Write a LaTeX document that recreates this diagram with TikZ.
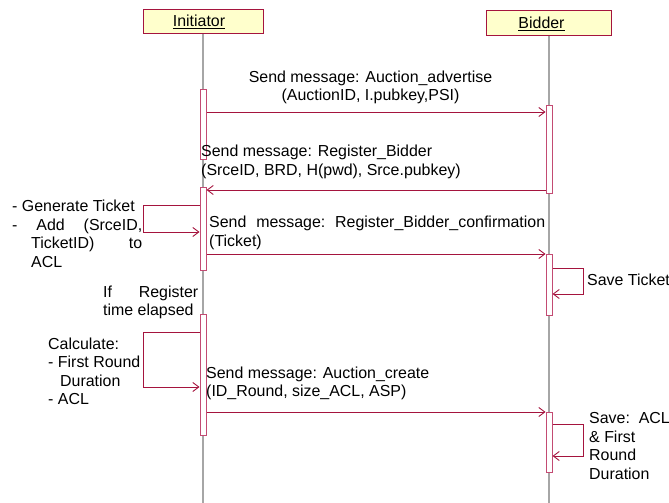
\documentclass[tikz,border=0pt]{standalone}
\usepackage{fontspec}
\setmainfont{Liberation Sans}
\usetikzlibrary{arrows.meta}
\definecolor{crim}{RGB}{165,20,62}
\definecolor{actb}{RGB}{195,75,115}
\definecolor{headfill}{RGB}{255,255,204}
\tikzset{
  lbl/.style={anchor=base west, inner sep=0pt, font=\fontsize{16}{18.5}\selectfont},
  head/.style={draw=crim, line width=1bp, fill=headfill, inner sep=0pt, font=\fontsize{16}{18.5}\selectfont},
  lifeline/.style={draw=gray!70, line width=1.2bp},
  actbox/.style={draw=actb, line width=1bp, fill=white},
  msg/.style={draw=crim, line width=0.9bp, -{Straight Barb[length=6bp,width=9bp,line width=0.9bp]}},
}
\begin{document}
\begin{tikzpicture}[x=1bp,y=-1bp]
\useasboundingbox (0,0) rectangle (669,503);
% heads
\node[head, minimum width=120bp, minimum height=24bp] (ini) at (203,22) {\underline{Initiator}\hspace*{8bp}};
\node[head, minimum width=125bp, minimum height=25bp] (bid) at (548.5,23.5) {\underline{Bidder}\hspace*{14bp}};
% lifelines
\coordinate (iniend) at (203,503);
\coordinate (bidend) at (549,503);
\draw[lifeline] (ini.south) -- (iniend);
\draw[lifeline] (549,36) -- (bidend);
% activations initiator
\node[actbox, inner sep=0pt, minimum width=6bp, minimum height=70bp, anchor=north] (a1) at (203,89) {};
\node[actbox, inner sep=0pt, minimum width=6bp, minimum height=83bp, anchor=north] (a2) at (203,187) {};
\node[actbox, inner sep=0pt, minimum width=6bp, minimum height=121bp, anchor=north] (a3) at (203,314) {};
% activations bidder
\node[actbox, inner sep=0pt, minimum width=6bp, minimum height=88bp, anchor=north] (b1) at (549,105) {};
\node[actbox, inner sep=0pt, minimum width=6bp, minimum height=61bp, anchor=north] (b2) at (549,254) {};
\node[actbox, inner sep=0pt, minimum width=6bp, minimum height=60bp, anchor=north] (b3) at (549,412) {};
% message 1
\draw[msg] (a1.east |- 0,112) -- (b1.west |- 0,112);
\node[lbl, anchor=base] (m1a) at (370.5,82.5) {Send message: Auction\_advertise};
\node[lbl, anchor=base] (m1b) at (370.5,101) {(AuctionID, I.pubkey,PSI)};
% message 2
\draw[msg] (b1.west |- 0,190) -- (a2.east |- 0,190);
\node[lbl] (m2a) at (201,157) {Send message: Register\_Bidder};
\node[lbl] (m2b) at (201,175.5) {(SrceID, BRD, H(pwd), Srce.pubkey)};
% self call 1 (initiator)
\coordinate (s1a) at (143,205);
\coordinate (s1b) at (143,232);
\draw[msg] (a2.west |- s1a) -- (s1a) -- (s1b) -- (a2.west |- s1b);
\node[lbl] (g1) at (12,212) {- Generate Ticket};
\node[lbl] (g2) at (12,230.5) {\hbox to 130bp{-\hfill Add\hfill (SrceID,}};
\node[lbl] (g3) at (31,249) {\hbox to 111bp{TicketID)\hfill to}};
\node[lbl] (g4) at (31,267.5) {ACL};
% message 3
\draw[msg] (a2.east |- 0,254) -- (b2.west |- 0,254);
\node[lbl] (m3a) at (209,228) {\hbox to 336bp{Send\hfill message:\hfill Register\_Bidder\_confirmation}};
\node[lbl] (m3b) at (209,246.5) {(Ticket)};
% self call 2 (bidder)
\coordinate (s2a) at (583,268);
\coordinate (s2b) at (583,294);
\draw[msg] (b2.east |- s2a) -- (s2a) -- (s2b) -- (b2.east |- s2b);
\node[lbl] (st) at (587,285) {Save Ticket};
% condition
\node[lbl] (c1) at (103,297) {\hbox to 95bp{If\hfill Register}};
\node[lbl] (c2) at (103,315.5) {time elapsed};
% self call 3 (initiator)
\coordinate (s3a) at (143,332);
\coordinate (s3b) at (143,387);
\draw[msg] (a3.west |- s3a) -- (s3a) -- (s3b) -- (a3.west |- s3b);
\node[lbl] (k1) at (48,349) {Calculate:};
\node[lbl] (k2) at (48,367.5) {- First Round};
\node[lbl] (k3) at (60,386) {Duration};
\node[lbl] (k4) at (48,404.5) {- ACL};
% message 4
\draw[msg] (a3.east |- 0,412) -- (b3.west |- 0,412);
\node[lbl] (m4a) at (206,378) {Send message: Auction\_create};
\node[lbl] (m4b) at (206,396.5) {(ID\_Round, size\_ACL, ASP)};
% self call 4 (bidder)
\coordinate (s4a) at (583,424);
\coordinate (s4b) at (583,456);
\draw[msg] (b3.east |- s4a) -- (s4a) -- (s4b) -- (b3.east |- s4b);
\node[lbl] (v1) at (589,423.5) {Save:\ \ ACL};
\node[lbl] (v2) at (589,442) {\&\ First};
\node[lbl] (v3) at (589,460.5) {Round};
\node[lbl] (v4) at (589,479) {Duration};
\end{tikzpicture}
\end{document}
